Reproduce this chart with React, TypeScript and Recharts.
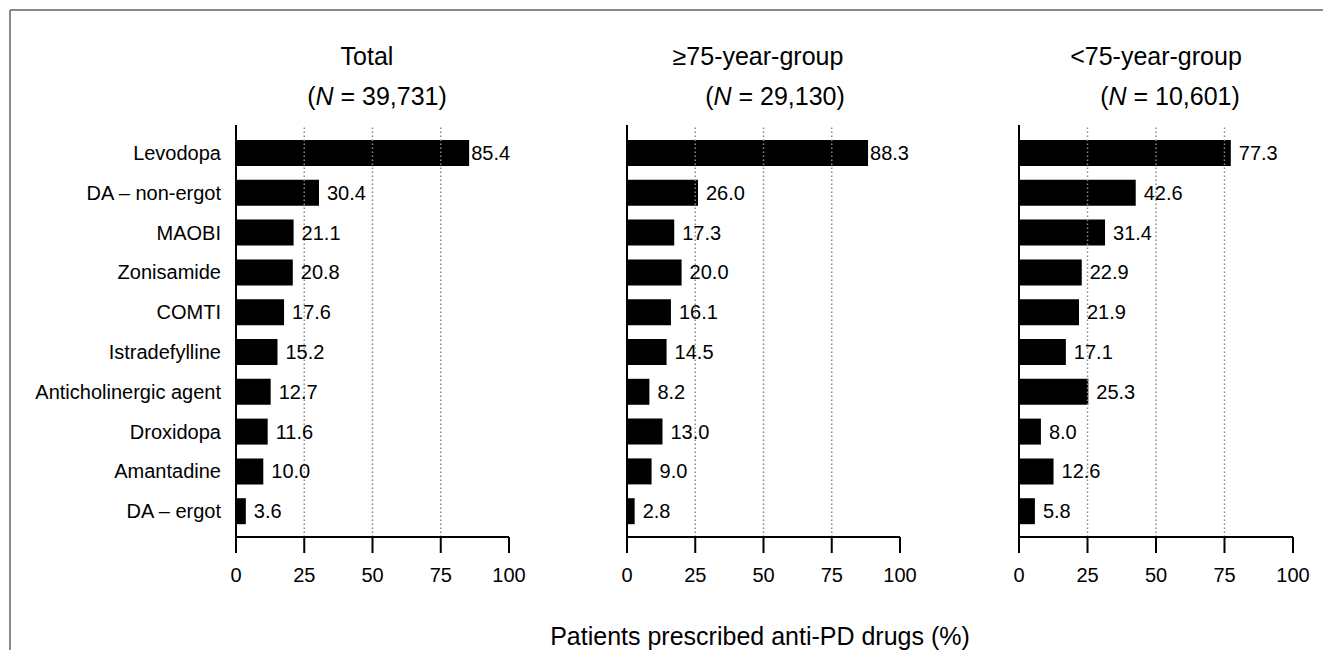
import React from "react";
import { BarChart, Bar, XAxis, YAxis, ReferenceLine, LabelList } from "recharts";

const categories = [
  "Levodopa",
  "DA – non-ergot",
  "MAOBI",
  "Zonisamide",
  "COMTI",
  "Istradefylline",
  "Anticholinergic agent",
  "Droxidopa",
  "Amantadine",
  "DA – ergot",
];
const totalValues = [85.4, 30.4, 21.1, 20.8, 17.6, 15.2, 12.7, 11.6, 10.0, 3.6];
const olderValues = [88.3, 26.0, 17.3, 20.0, 16.1, 14.5, 8.2, 13.0, 9.0, 2.8];
const youngerValues = [77.3, 42.6, 31.4, 22.9, 21.9, 17.1, 25.3, 8.0, 12.6, 5.8];
const xTicks = [0, 25, 50, 75, 100];
const gridValues = [25, 50, 75];
const panelTitles = ["Total", "≥75-year-group", "<75-year-group"];
const panelNs = ["39,731", "29,130", "10,601"];
const axisTitle = "Patients prescribed anti-PD drugs (%)";

const FONT = "'Liberation Sans', Arial, Helvetica, sans-serif";

const build = (vals: number[]) => categories.map((name, i) => ({ name, value: vals[i] }));

const ValueLabel = (props: any) => {
  const { x, y, width, height, value } = props;
  const off = value > 80 ? 2 : 8;
  return (
    <text
      x={Number(x) + Number(width) + off}
      y={Number(y) + Number(height) / 2}
      dominantBaseline="central"
      fontSize={20}
      fontFamily={FONT}
      fill="#000"
    >
      {Number(value).toFixed(1)}
    </text>
  );
};

type PanelProps = {
  values: number[];
  left: number;
  width: number;
  yWidth: number;
  right: number;
  showLabels: boolean;
};

const Panel = ({ values, left, width, yWidth, right, showLabels }: PanelProps) => (
  <div style={{ position: "absolute", left, top: 0 }}>
    <BarChart
      width={width}
      height={600}
      layout="vertical"
      data={build(values)}
      margin={{ top: 125, right, bottom: 3, left: 0 }}
      barCategoryGap={0}
    >
      <XAxis
        type="number"
        domain={[0, 100]}
        ticks={xTicks}
        interval={0}
        height={60}
        tickSize={16}
        tickMargin={15}
        axisLine={{ stroke: "#000", strokeWidth: 2 }}
        tickLine={{ stroke: "#000", strokeWidth: 2 }}
        tick={{ fontSize: 20, fill: "#000", fontFamily: FONT }}
      />
      <YAxis
        type="category"
        dataKey="name"
        width={yWidth}
        interval={0}
        padding={{ top: 8, bottom: 6 }}
        axisLine={{ stroke: "#000", strokeWidth: 2 }}
        tickLine={false}
        tickSize={0}
        tickMargin={15}
        tick={showLabels ? { fontSize: 20, fill: "#000", fontFamily: FONT } : false}
      />
      {gridValues.map((g) => (
        <ReferenceLine
          key={g}
          x={g}
          stroke="#8a8a8a"
          strokeWidth={1.5}
          strokeDasharray="1.5 2.5"
        />
      ))}
      <Bar dataKey="value" fill="#000" barSize={26} isAnimationActive={false}>
        <LabelList dataKey="value" content={ValueLabel} />
      </Bar>
    </BarChart>
  </div>
);

const titleCenters = [367, 758, 1156];
const nCenters = [377, 775, 1170];

export default function App() {
  return (
    <div
      style={{
        position: "absolute",
        left: 0,
        top: 0,
        width: 1323,
        height: 650,
        background: "#fff",
        overflow: "hidden",
        fontFamily: FONT,
      }}
    >
      <Panel values={totalValues} left={0} width={540} yWidth={236} right={31} showLabels={true} />
      <Panel values={olderValues} left={587} width={340} yWidth={40} right={27} showLabels={false} />
      <Panel values={youngerValues} left={979} width={340} yWidth={40} right={26} showLabels={false} />
      <svg
        width={1323}
        height={650}
        style={{ position: "absolute", left: 0, top: 0, pointerEvents: "none" }}
      >
        <line x1={10} y1={10} x2={1323} y2={10} stroke="#888" strokeWidth={2} />
        <line x1={10} y1={10} x2={10} y2={650} stroke="#888" strokeWidth={2} />
        {panelTitles.map((t, i) => (
          <text
            key={"t" + i}
            x={titleCenters[i]}
            y={65}
            textAnchor="middle"
            fontSize={25}
            fontFamily={FONT}
            fill="#000"
          >
            {t}
          </text>
        ))}
        {panelNs.map((n, i) => (
          <text
            key={"n" + i}
            x={nCenters[i]}
            y={105}
            textAnchor="middle"
            fontSize={25}
            fontFamily={FONT}
            fill="#000"
          >
            (<tspan fontStyle="italic">N</tspan> = {n})
          </text>
        ))}
        <text x={760} y={645} textAnchor="middle" fontSize={25} fontFamily={FONT} fill="#000">
          {axisTitle}
        </text>
      </svg>
    </div>
  );
}
